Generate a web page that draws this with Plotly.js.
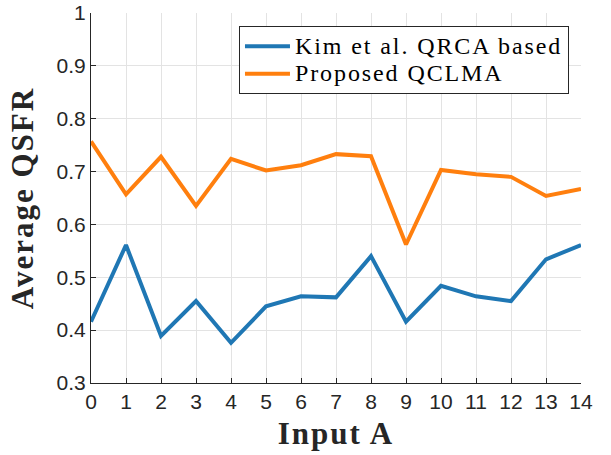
<!DOCTYPE html>
<html>
<head>
<meta charset="utf-8">
<script src="https://cdn.plot.ly/plotly-3.0.1.min.js"></script>
<style>
html,body{margin:0;padding:0;background:#fff;}
.legendtext{letter-spacing:1.9px; font-size:24px !important;}
.xtitle, .ytitle{letter-spacing:2px;}
</style>
</head>
<body>
<div id="chart" style="width:611px;height:455px;"></div>
<script>
const inputA = [0,1,2,3,4,5,6,7,8,9,10,11,12,13,14];
const kimQRCA = [0.416,0.561,0.389,0.455,0.376,0.445,0.464,0.462,0.540,0.416,0.484,0.464,0.455,0.534,0.561];
const proposedQCLMA = [0.757,0.657,0.728,0.635,0.724,0.702,0.712,0.733,0.729,0.562,0.703,0.695,0.690,0.654,0.667];
const seriesNames = ['Kim et al. QRCA based','Proposed QCLMA'];
const xTicks = inputA.map(String);
const yTicks = [0.3,0.4,0.5,0.6,0.7,0.8,0.9,1];
const yTickText = ['0.3','0.4','0.5','0.6','0.7','0.8','0.9','1'];

const traces = [
  {x: inputA, y: kimQRCA, name: seriesNames[0], mode: 'lines', line: {color: '#1f77b4', width: 4}},
  {x: inputA, y: proposedQCLMA, name: seriesNames[1], mode: 'lines', line: {color: '#ff7f0e', width: 4}}
];
const serif = '"Liberation Serif", "Times New Roman", serif';
const tickFont = {family: '"Liberation Sans", Arial, sans-serif', size: 21, color: '#262626'};
const titleFont = {family: serif, size: 31, color: '#262626', weight: 'bold'};
const layout = {
  width: 611, height: 455,
  margin: {l: 91, r: 30, t: 13, b: 72},
  paper_bgcolor: '#fff', plot_bgcolor: '#fff',
  showlegend: true,
  legend: {x: 0.302, y: 0.964, xanchor: 'left', yanchor: 'top',
    bordercolor: '#262626', borderwidth: 1, bgcolor: '#fff',
    font: {family: serif, size: 19, color: '#000'},
    itemwidth: 45, tracegroupgap: 0},
  xaxis: {range: [0,14], tickvals: inputA, ticktext: xTicks, showgrid: true, gridcolor: '#e3e3e3',
    gridwidth: 1, zeroline: false, showline: true, linecolor: '#262626', linewidth: 1,
    ticks: 'inside', ticklen: 5, tickcolor: '#262626', tickfont: tickFont,
    title: {text: 'Input A', font: titleFont, standoff: 10}, automargin: false},
  yaxis: {range: [0.3,1], tickvals: yTicks, ticktext: yTickText, showgrid: true, gridcolor: '#e3e3e3',
    gridwidth: 1, zeroline: false, showline: true, linecolor: '#262626', linewidth: 1,
    ticks: 'inside', ticklen: 5, tickcolor: '#262626', tickfont: tickFont,
    title: {text: 'Average QSFR', font: titleFont, standoff: 13}, automargin: false}
};
Plotly.newPlot('chart', traces, layout, {displayModeBar: false, staticPlot: true});
</script>
</body>
</html>
